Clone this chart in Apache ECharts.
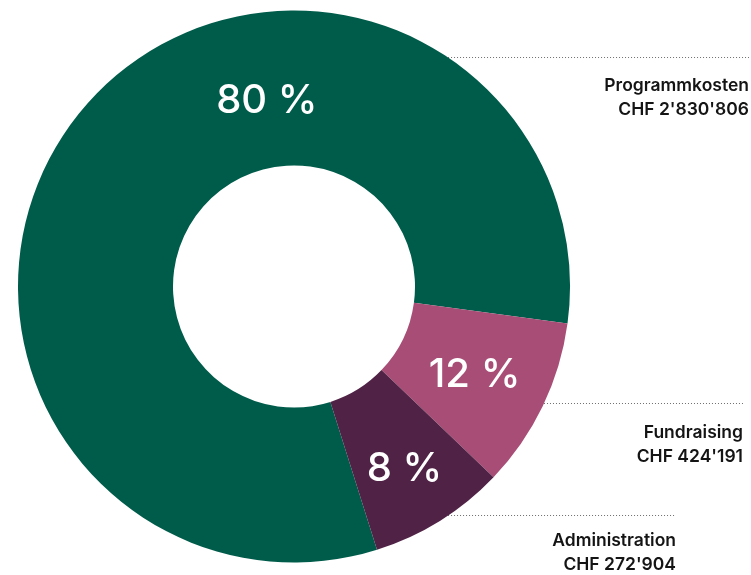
<!DOCTYPE html>
<html>
<head>
<meta charset="utf-8">
<script src="https://cdn.jsdelivr.net/npm/echarts@6/dist/echarts.min.js"></script>
<style>
  html, body { margin: 0; padding: 0; background: #fff; }
  #chart { width: 751px; height: 575px; }
</style>
</head>
<body>
<div id="chart"></div>
<script>
// cost categories, CHF amounts and the percent labels printed on the ring
var categories = ['Programmkosten', 'Fundraising', 'Administration'];
var amounts = [2830806, 424191, 272904];
var percentLabels = ['80 %', '12 %', '8 %'];
// share of the ring each slice takes in the picture (as drawn)
var drawnShares = [82, 10, 8];

var colors = ['#005c4a', '#a84e76', '#502246'];

// layout of the ring and the side notes
var cx = 294, cy = 286.5, rIn = 121, rOut = 276;
var labelOffsets = [[127, -56], [-1, 1.5], [4, 11]];
var noteLineY = [57.5, 403.5, 515.5];
var noteRight = [749, 743, 676];
var noteTop = [74, 420.5, 529];

function fmtChf(v) {
  return 'CHF ' + String(v).replace(/\B(?=(\d{3})+(?!\d))/g, "'");
}

var chart = echarts.init(document.getElementById('chart'));

var pieData = categories.map(function (name, i) {
  return {
    name: name,
    value: drawnShares[i],
    itemStyle: { color: colors[i] },
    label: { offset: labelOffsets[i] }
  };
});

var graphics = [];
for (var i = 0; i < categories.length; i++) {
  var dy = noteLineY[i] - cy;
  var x0 = cx + Math.sqrt(rOut * rOut - dy * dy);
  graphics.push({
    type: 'line',
    silent: true,
    shape: { x1: x0, y1: noteLineY[i], x2: noteRight[i], y2: noteLineY[i] },
    style: { stroke: '#6e6e6e', lineWidth: 1, lineDash: [1, 2] }
  });
  graphics.push({
    type: 'text',
    silent: true,
    x: noteRight[i],
    y: noteTop[i],
    style: {
      text: categories[i] + '\n' + fmtChf(amounts[i]),
      align: 'right',
      verticalAlign: 'top',
      fill: '#141414',
      font: '600 17.5px Inter',
      lineHeight: 24
    }
  });
}

var option = {
  animation: false,
  backgroundColor: '#ffffff',
  series: [{
    type: 'pie',
    center: [cx, cy],
    radius: [rIn, rOut],
    startAngle: 287.5,
    clockwise: true,
    avoidLabelOverlap: false,
    itemStyle: { borderWidth: 0 },
    emphasis: { disabled: true },
    label: {
      show: true,
      position: 'inside',
      color: '#ffffff',
      fontFamily: 'Inter',
      fontWeight: 500,
      fontSize: 40,
      formatter: function (p) { return percentLabels[p.dataIndex]; }
    },
    labelLine: { show: false },
    data: pieData
  }],
  graphic: graphics
};

chart.setOption(option);
</script>
</body>
</html>
